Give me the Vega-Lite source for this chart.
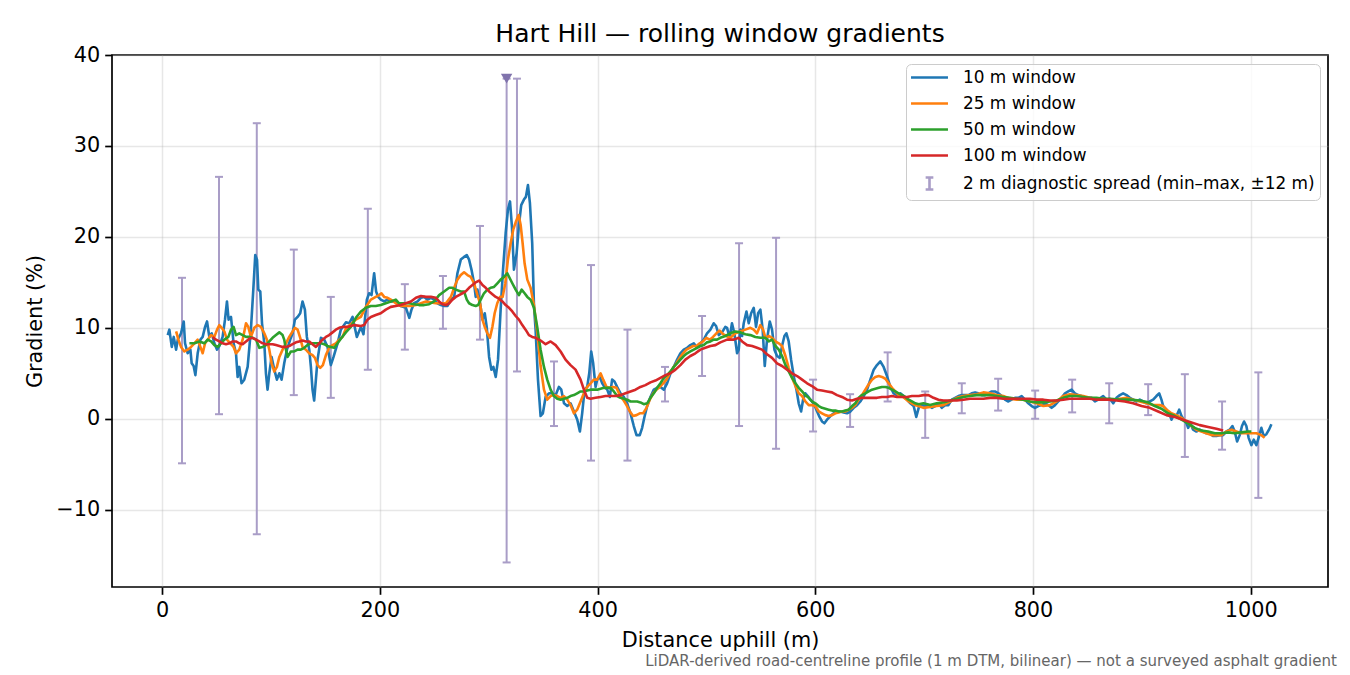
{
  "$schema": "https://vega.github.io/schema/vega-lite/v6.json",
  "background": "white",
  "padding": {"left": 23, "top": 21, "right": 10, "bottom": 6},
  "config": {
    "font": "DejaVu Sans",
    "view": {"stroke": "#000000", "strokeWidth": 1.7},
    "axis": {
      "labelFont": "DejaVu Sans", "labelFontSize": 20.8, "labelColor": "#000000",
      "titleFont": "DejaVu Sans", "titleFontSize": 20.8, "titleFontWeight": "normal", "titleColor": "#000000",
      "domain": false, "tickColor": "#000000", "tickWidth": 1.7, "tickSize": 7.3, "labelPadding": 5,
      "gridColor": "#b0b0b0", "gridOpacity": 0.3, "gridWidth": 1.5
    },
    "legend": {
      "orient": "top-right", "offset": 8.5,
      "labelFont": "DejaVu Sans", "labelFontSize": 16.9, "labelColor": "#000000", "labelLimit": 500,
      "symbolType": "stroke", "symbolSize": 196, "symbolStrokeWidth": 2.6,
      "symbolOffset": 10, "labelOffset": 25, "rowPadding": 8, "padding": 5,
      "fillColor": "rgba(255,255,255,0.8)", "strokeColor": "#cccccc", "cornerRadius": 5
    }
  },
  "title": {
    "text": "LiDAR-derived road-centreline profile (1 m DTM, bilinear) — not a surveyed asphalt gradient",
    "orient": "bottom", "anchor": "end", "fontSize": 15, "fontWeight": "normal",
    "color": "#666666", "font": "DejaVu Sans", "offset": 3, "dx": 8
  },
  "datasets": {
    "spread": [
      {"x": 18.3, "lo": -4.9, "hi": 15.5}, {"x": 52.3, "lo": 0.5, "hi": 26.6}, {"x": 87, "lo": -12.7, "hi": 32.5},
      {"x": 121, "lo": 2.6, "hi": 18.6}, {"x": 155, "lo": 2.3, "hi": 13.4}, {"x": 189, "lo": 5.4, "hi": 23.1},
      {"x": 223, "lo": 7.6, "hi": 14.8}, {"x": 258, "lo": 9.9, "hi": 15.7}, {"x": 292, "lo": 8.7, "hi": 21.2},
      {"x": 316.5, "lo": -15.8, "hi": 37.4}, {"x": 326, "lo": 5.2, "hi": 37.4}, {"x": 360, "lo": -0.8, "hi": 6.3},
      {"x": 394, "lo": -4.6, "hi": 16.9}, {"x": 427.5, "lo": -4.6, "hi": 9.8}, {"x": 462, "lo": 1.9, "hi": 5.7},
      {"x": 496, "lo": 4.7, "hi": 11.3}, {"x": 530, "lo": -0.8, "hi": 19.3}, {"x": 564, "lo": -3.3, "hi": 19.9},
      {"x": 598, "lo": -1.4, "hi": 4.3}, {"x": 632, "lo": -0.9, "hi": 2.7}, {"x": 666.5, "lo": 1.9, "hi": 7.3},
      {"x": 701, "lo": -2.1, "hi": 3.0}, {"x": 734.6, "lo": 0.6, "hi": 3.9}, {"x": 768, "lo": 0.9, "hi": 4.4},
      {"x": 802, "lo": 0.0, "hi": 3.1}, {"x": 836, "lo": 0.7, "hi": 4.3}, {"x": 870, "lo": -0.5, "hi": 3.9},
      {"x": 905.8, "lo": 0.4, "hi": 3.8}, {"x": 939.5, "lo": -4.2, "hi": 4.9}, {"x": 973.7, "lo": -3.4, "hi": 1.9},
      {"x": 1007, "lo": -8.7, "hi": 5.1}
    ],
    "steepest": [{"x": 316.5, "y": 37.4}],
    "w10": [
      {"x":5.2,"y":9.2},{"x":6.7,"y":9.8},{"x":8.9,"y":7.9},{"x":10.7,"y":9.0},{"x":12.9,"y":7.6},{"x":14.4,"y":8.7},{"x":17.4,"y":9.4},{"x":19.9,"y":10.7},{"x":21.1,"y":8.3},{"x":23.5,"y":7.2},{"x":26,"y":7.6},{"x":27.2,"y":6.1},{"x":29,"y":5.8},{"x":30.6,"y":4.8},{"x":32.7,"y":7.2},{"x":35.2,"y":8.7},{"x":37.3,"y":9.0},{"x":39.5,"y":10.1},{"x":41.3,"y":10.7},{"x":43.4,"y":9.0},{"x":45.6,"y":9.4},{"x":48,"y":8.3},{"x":50.5,"y":7.6},{"x":52.6,"y":8.0},{"x":55.6,"y":9.0},{"x":57.8,"y":10.9},{"x":59.6,"y":12.9},{"x":61.1,"y":10.9},{"x":63.3,"y":11.2},{"x":65.7,"y":8.3},{"x":67.9,"y":7.2},{"x":69.4,"y":4.6},{"x":70.9,"y":5.7},{"x":73,"y":3.9},{"x":75.5,"y":4.3},{"x":78.6,"y":5.7},{"x":81.6,"y":9.8},{"x":83.8,"y":14.2},{"x":85.6,"y":18.0},{"x":87.2,"y":17.5},{"x":88.4,"y":14.2},{"x":90.2,"y":14.0},{"x":91.8,"y":10.5},{"x":93.9,"y":8.3},{"x":95.4,"y":5.0},{"x":96.9,"y":3.2},{"x":98.5,"y":5.0},{"x":100.6,"y":6.8},{"x":103.1,"y":5.4},{"x":105.5,"y":4.3},{"x":107.7,"y":5.0},{"x":109.8,"y":4.3},{"x":112.2,"y":6.1},{"x":114.7,"y":7.6},{"x":117.7,"y":8.7},{"x":119.9,"y":9.4},{"x":122,"y":10.9},{"x":124.5,"y":11.2},{"x":126.9,"y":11.6},{"x":129,"y":12.9},{"x":131.2,"y":12.0},{"x":133,"y":9.0},{"x":135.2,"y":7.6},{"x":136.7,"y":5.7},{"x":138.2,"y":3.2},{"x":139.7,"y":2.0},{"x":141.3,"y":4.3},{"x":142.8,"y":6.5},{"x":145.9,"y":8.9},{"x":148.9,"y":8.7},{"x":152,"y":7.9},{"x":155,"y":5.9},{"x":157.5,"y":6.8},{"x":161.2,"y":8.3},{"x":164.2,"y":9.8},{"x":168.8,"y":10.6},{"x":171.9,"y":10.5},{"x":175,"y":11.2},{"x":178.9,"y":9.0},{"x":182.6,"y":10.1},{"x":185,"y":9.3},{"x":188.1,"y":13.1},{"x":190.2,"y":13.8},{"x":192.4,"y":13.6},{"x":194.8,"y":16.0},{"x":196.6,"y":14.0},{"x":198.5,"y":13.4},{"x":200.9,"y":13.1},{"x":204,"y":12.9},{"x":207.1,"y":13.1},{"x":210.1,"y":12.9},{"x":213.3,"y":12.9},{"x":216.3,"y":12.7},{"x":219.3,"y":12.4},{"x":224,"y":12.2},{"x":227.1,"y":11.1},{"x":229.1,"y":12.0},{"x":231.5,"y":12.7},{"x":234.7,"y":12.9},{"x":237.7,"y":13.3},{"x":240.8,"y":13.4},{"x":243.8,"y":13.1},{"x":246.9,"y":13.3},{"x":249.9,"y":13.1},{"x":253,"y":12.7},{"x":256.1,"y":12.5},{"x":259.1,"y":12.4},{"x":262.2,"y":12.4},{"x":265.2,"y":13.1},{"x":268.3,"y":13.4},{"x":271.3,"y":16.0},{"x":274.4,"y":17.5},{"x":277.4,"y":17.8},{"x":279.9,"y":18.0},{"x":282,"y":17.5},{"x":284.2,"y":16.4},{"x":286.6,"y":14.9},{"x":288.1,"y":13.4},{"x":289.7,"y":14.2},{"x":292.1,"y":12.7},{"x":294.3,"y":10.9},{"x":296.4,"y":11.6},{"x":298.2,"y":10.1},{"x":300.4,"y":6.8},{"x":302.5,"y":5.4},{"x":304.3,"y":5.7},{"x":306.5,"y":4.6},{"x":308.6,"y":6.5},{"x":311,"y":12.0},{"x":313.2,"y":16.4},{"x":315.6,"y":20.4},{"x":317.7,"y":23.0},{"x":319.6,"y":23.9},{"x":321.4,"y":21.1},{"x":323.2,"y":16.4},{"x":325.7,"y":18.2},{"x":327.8,"y":21.3},{"x":329.9,"y":23.5},{"x":332.4,"y":24.1},{"x":334.2,"y":24.4},{"x":336.1,"y":25.7},{"x":337.9,"y":23.7},{"x":340,"y":19.3},{"x":341.6,"y":12.5},{"x":343.1,"y":9.8},{"x":345.3,"y":4.3},{"x":347.7,"y":0.3},{"x":349.8,"y":0.6},{"x":352.3,"y":2.4},{"x":355.4,"y":2.8},{"x":358.4,"y":2.8},{"x":361.5,"y":2.6},{"x":364.5,"y":3.5},{"x":366.7,"y":3.2},{"x":369.2,"y":1.7},{"x":372.2,"y":1.4},{"x":375.2,"y":1.7},{"x":378.3,"y":0.8},{"x":381.4,"y":-0.1},{"x":383.8,"y":-1.4},{"x":385.9,"y":0.6},{"x":388.1,"y":3.2},{"x":390.5,"y":3.5},{"x":392.4,"y":5.0},{"x":394.2,"y":7.4},{"x":396,"y":6.1},{"x":398.2,"y":3.5},{"x":399.7,"y":4.3},{"x":402.1,"y":4.6},{"x":404.3,"y":3.9},{"x":406.4,"y":3.5},{"x":408.9,"y":3.2},{"x":411.3,"y":2.4},{"x":413.4,"y":4.3},{"x":415.6,"y":4.1},{"x":418,"y":3.5},{"x":421.1,"y":2.8},{"x":424.1,"y":2.4},{"x":427.2,"y":1.7},{"x":430.3,"y":0.6},{"x":433.3,"y":-0.8},{"x":435.8,"y":-1.8},{"x":438.8,"y":-1.8},{"x":441,"y":-1.0},{"x":443.1,"y":0.2},{"x":445.6,"y":1.4},{"x":448.6,"y":2.4},{"x":451.7,"y":3.2},{"x":454.7,"y":3.4},{"x":457.8,"y":3.5},{"x":460.9,"y":3.2},{"x":463.9,"y":3.9},{"x":467,"y":5.0},{"x":470,"y":5.7},{"x":473.1,"y":6.5},{"x":476.1,"y":7.2},{"x":479.2,"y":7.6},{"x":482.3,"y":7.8},{"x":485.3,"y":8.1},{"x":488.4,"y":8.3},{"x":491.4,"y":7.8},{"x":494.5,"y":8.3},{"x":497.6,"y":8.7},{"x":500.6,"y":9.4},{"x":503.7,"y":9.8},{"x":506.7,"y":10.5},{"x":508.9,"y":10.2},{"x":511.4,"y":9.2},{"x":514.4,"y":9.5},{"x":517.4,"y":10.1},{"x":519,"y":10.0},{"x":521.4,"y":8.9},{"x":523.5,"y":10.5},{"x":525.7,"y":9.4},{"x":528.2,"y":7.2},{"x":529.7,"y":7.6},{"x":531.2,"y":9.8},{"x":532.8,"y":9.1},{"x":534.3,"y":10.5},{"x":536.8,"y":11.8},{"x":538.9,"y":10.5},{"x":541.1,"y":11.6},{"x":543.5,"y":12.2},{"x":545.6,"y":10.1},{"x":547.5,"y":11.6},{"x":549.6,"y":12.0},{"x":551.7,"y":9.8},{"x":553.6,"y":5.8},{"x":555.7,"y":8.7},{"x":558.2,"y":10.7},{"x":560.3,"y":9.8},{"x":562.5,"y":7.6},{"x":564.9,"y":6.9},{"x":567.4,"y":6.7},{"x":569.5,"y":8.0},{"x":571.7,"y":9.1},{"x":573.5,"y":9.4},{"x":575.6,"y":8.5},{"x":577.8,"y":6.5},{"x":580.2,"y":4.7},{"x":582.7,"y":3.2},{"x":584.8,"y":1.7},{"x":587,"y":0.8},{"x":588.8,"y":2.1},{"x":590.9,"y":2.8},{"x":593.1,"y":2.5},{"x":595.5,"y":2.1},{"x":598.5,"y":1.7},{"x":601,"y":1.0},{"x":603.5,"y":0.3},{"x":606.2,"y":-0.3},{"x":608.4,"y":-0.5},{"x":610.8,"y":-0.1},{"x":613.9,"y":0.3},{"x":617,"y":0.6},{"x":620,"y":0.8},{"x":623.1,"y":0.8},{"x":626.1,"y":0.7},{"x":629.2,"y":0.6},{"x":632.3,"y":0.8},{"x":635.3,"y":1.2},{"x":638.4,"y":1.5},{"x":641.4,"y":1.9},{"x":644.5,"y":2.5},{"x":647.6,"y":3.2},{"x":650.6,"y":4.3},{"x":653.7,"y":5.4},{"x":656.7,"y":5.9},{"x":659.8,"y":6.3},{"x":662.8,"y":5.7},{"x":665.9,"y":4.7},{"x":669,"y":3.5},{"x":672,"y":2.8},{"x":675.1,"y":2.6},{"x":678.1,"y":2.8},{"x":681.2,"y":2.5},{"x":684.3,"y":2.1},{"x":687.3,"y":1.7},{"x":690.4,"y":1.4},{"x":692.8,"y":0.2},{"x":695,"y":1.2},{"x":697.9,"y":1.5},{"x":700.9,"y":1.4},{"x":704,"y":1.5},{"x":707.1,"y":1.2},{"x":710.1,"y":1.4},{"x":713.2,"y":1.7},{"x":716.2,"y":1.2},{"x":719.3,"y":1.5},{"x":722.3,"y":1.5},{"x":725.4,"y":2.1},{"x":728.5,"y":2.3},{"x":731.5,"y":2.5},{"x":734.6,"y":2.6},{"x":737.6,"y":2.6},{"x":740.7,"y":2.6},{"x":743.7,"y":2.8},{"x":746.8,"y":2.9},{"x":749.8,"y":2.8},{"x":752.9,"y":2.6},{"x":756,"y":2.6},{"x":759,"y":2.8},{"x":762.1,"y":3.0},{"x":765.1,"y":3.0},{"x":768.2,"y":2.8},{"x":771.3,"y":2.5},{"x":774.3,"y":2.1},{"x":777.4,"y":1.9},{"x":780.4,"y":2.1},{"x":783.5,"y":2.3},{"x":786.5,"y":2.3},{"x":789.6,"y":2.5},{"x":792.7,"y":2.1},{"x":795.7,"y":1.7},{"x":798.8,"y":1.4},{"x":801.8,"y":1.2},{"x":804.9,"y":1.4},{"x":807.9,"y":1.5},{"x":811,"y":1.7},{"x":814.1,"y":1.5},{"x":817.1,"y":1.2},{"x":820.2,"y":1.5},{"x":823.2,"y":1.9},{"x":826.3,"y":2.3},{"x":829.4,"y":2.8},{"x":832.4,"y":3.0},{"x":835.5,"y":3.2},{"x":838.5,"y":2.8},{"x":841.6,"y":2.6},{"x":844.6,"y":2.5},{"x":847.7,"y":2.3},{"x":850.8,"y":2.3},{"x":853.8,"y":2.3},{"x":856.9,"y":1.9},{"x":859.9,"y":2.1},{"x":864.5,"y":2.5},{"x":867.6,"y":2.1},{"x":870.6,"y":2.2},{"x":873.7,"y":1.7},{"x":876.7,"y":2.3},{"x":879.8,"y":2.6},{"x":882.8,"y":2.8},{"x":885.9,"y":2.6},{"x":889,"y":2.3},{"x":892,"y":2.1},{"x":895.1,"y":1.9},{"x":898.1,"y":2.1},{"x":901.2,"y":1.9},{"x":904.3,"y":1.7},{"x":907.3,"y":1.9},{"x":910.4,"y":2.1},{"x":913.4,"y":2.5},{"x":915.9,"y":2.8},{"x":918,"y":2.1},{"x":919.6,"y":1.4},{"x":922.6,"y":1.0},{"x":925.7,"y":0.4},{"x":927.2,"y":-0.1},{"x":929.4,"y":0.4},{"x":931.8,"y":0.3},{"x":934.3,"y":1.0},{"x":936.4,"y":0.3},{"x":938.5,"y":-0.1},{"x":941,"y":-0.5},{"x":942.5,"y":-1.0},{"x":944.6,"y":-0.5},{"x":947.1,"y":-1.2},{"x":950.1,"y":-1.4},{"x":953.2,"y":-1.2},{"x":956.3,"y":-1.4},{"x":959.3,"y":-1.6},{"x":962.4,"y":-1.6},{"x":965.4,"y":-1.9},{"x":968.5,"y":-1.9},{"x":971.6,"y":-1.8},{"x":974.6,"y":-1.8},{"x":977.7,"y":-1.4},{"x":980.7,"y":-1.2},{"x":983.2,"y":-0.8},{"x":985.3,"y":-1.4},{"x":987.5,"y":-2.5},{"x":989.9,"y":-1.8},{"x":992,"y":-0.8},{"x":993.9,"y":-0.3},{"x":996,"y":-0.8},{"x":998.1,"y":-2.1},{"x":1000.6,"y":-2.9},{"x":1002.8,"y":-2.3},{"x":1005.2,"y":-2.9},{"x":1007.7,"y":-1.9},{"x":1009.8,"y":-1.0},{"x":1012,"y":-1.9},{"x":1014.4,"y":-1.7},{"x":1016.8,"y":-1.2},{"x":1019,"y":-0.6}
    ],
    "w25": [
      {"x":12.9,"y":9.6},{"x":15,"y":8.7},{"x":17.4,"y":7.9},{"x":20.5,"y":7.4},{"x":23.5,"y":7.6},{"x":26.6,"y":7.9},{"x":29.7,"y":8.3},{"x":32.7,"y":8.7},{"x":35.2,"y":7.9},{"x":37.3,"y":7.2},{"x":39.5,"y":8.3},{"x":41.9,"y":8.7},{"x":45,"y":9.2},{"x":48,"y":9.0},{"x":50.5,"y":9.8},{"x":52.6,"y":10.3},{"x":54.7,"y":10.0},{"x":57.2,"y":9.6},{"x":59.6,"y":8.7},{"x":62.7,"y":8.3},{"x":65.7,"y":7.9},{"x":67.9,"y":7.2},{"x":70.9,"y":7.6},{"x":74,"y":8.7},{"x":77.1,"y":10.5},{"x":79.2,"y":10.1},{"x":81.6,"y":9.0},{"x":84.7,"y":10.0},{"x":87.8,"y":10.3},{"x":90.8,"y":10.1},{"x":93.9,"y":9.4},{"x":96.3,"y":8.7},{"x":98.5,"y":7.6},{"x":100.6,"y":6.1},{"x":103.1,"y":5.2},{"x":105.5,"y":5.7},{"x":107.7,"y":6.8},{"x":110.7,"y":7.6},{"x":113.8,"y":8.3},{"x":116.8,"y":9.0},{"x":119.9,"y":9.6},{"x":122,"y":10.0},{"x":124.5,"y":9.8},{"x":126.9,"y":8.9},{"x":129,"y":7.9},{"x":132.1,"y":7.6},{"x":135.2,"y":7.2},{"x":138.2,"y":7.0},{"x":140.4,"y":6.7},{"x":142.8,"y":5.9},{"x":145.3,"y":5.6},{"x":147.7,"y":5.9},{"x":150.5,"y":7.0},{"x":153.5,"y":7.8},{"x":156.6,"y":8.1},{"x":159.6,"y":8.3},{"x":162.7,"y":8.7},{"x":165.7,"y":9.0},{"x":168.8,"y":9.9},{"x":173.4,"y":10.4},{"x":178,"y":10.9},{"x":182.6,"y":11.2},{"x":187.2,"y":12.3},{"x":191.8,"y":13.1},{"x":196.3,"y":13.4},{"x":199.4,"y":13.6},{"x":201.5,"y":13.8},{"x":204,"y":13.4},{"x":207.1,"y":13.3},{"x":210.1,"y":13.1},{"x":214.7,"y":12.7},{"x":219.3,"y":12.4},{"x":224,"y":12.4},{"x":228.6,"y":12.4},{"x":233.2,"y":12.5},{"x":237.8,"y":12.7},{"x":242.4,"y":12.9},{"x":246.9,"y":12.8},{"x":251.5,"y":12.7},{"x":256.1,"y":12.7},{"x":260.7,"y":12.7},{"x":265.3,"y":13.4},{"x":268.3,"y":14.4},{"x":271.3,"y":15.3},{"x":274.4,"y":15.8},{"x":277.4,"y":16.1},{"x":280.5,"y":15.8},{"x":283.5,"y":15.6},{"x":286.6,"y":14.9},{"x":289.7,"y":13.6},{"x":292.1,"y":12.7},{"x":294.3,"y":10.9},{"x":296.4,"y":10.1},{"x":298.8,"y":9.4},{"x":301.2,"y":8.9},{"x":303.4,"y":10.1},{"x":305.5,"y":11.6},{"x":307.9,"y":12.7},{"x":310.4,"y":13.4},{"x":312.8,"y":13.4},{"x":315.3,"y":14.9},{"x":317.7,"y":17.5},{"x":320.2,"y":19.3},{"x":322.6,"y":20.8},{"x":325.1,"y":21.7},{"x":327.5,"y":22.4},{"x":329.4,"y":21.3},{"x":331.2,"y":19.3},{"x":333,"y":17.1},{"x":335.5,"y":15.3},{"x":338.5,"y":14.4},{"x":341.6,"y":12.5},{"x":344.6,"y":9.5},{"x":347.7,"y":5.8},{"x":350.8,"y":3.2},{"x":353.8,"y":2.1},{"x":356.9,"y":2.5},{"x":359.9,"y":2.6},{"x":363,"y":2.5},{"x":366.1,"y":2.3},{"x":369.1,"y":2.5},{"x":372.2,"y":2.1},{"x":375.2,"y":1.5},{"x":378.3,"y":0.6},{"x":381.3,"y":1.0},{"x":384.4,"y":1.9},{"x":387.5,"y":2.8},{"x":390.5,"y":3.5},{"x":393.6,"y":3.9},{"x":396.6,"y":4.3},{"x":399.7,"y":4.3},{"x":402.8,"y":5.0},{"x":405.2,"y":4.3},{"x":408.3,"y":3.5},{"x":411.3,"y":3.4},{"x":414.4,"y":3.5},{"x":417.4,"y":3.4},{"x":420.5,"y":2.6},{"x":423.5,"y":2.1},{"x":426.6,"y":1.5},{"x":429.7,"y":0.8},{"x":432.7,"y":0.3},{"x":435.8,"y":0.4},{"x":438.8,"y":0.6},{"x":441.9,"y":0.6},{"x":445,"y":1.2},{"x":448,"y":2.1},{"x":451.1,"y":2.8},{"x":454.1,"y":3.2},{"x":457.2,"y":3.5},{"x":460.3,"y":3.9},{"x":463.3,"y":4.3},{"x":466.4,"y":5.0},{"x":469.4,"y":5.6},{"x":472.5,"y":6.1},{"x":475.5,"y":6.7},{"x":478.6,"y":7.2},{"x":481.7,"y":7.6},{"x":484.7,"y":7.8},{"x":487.8,"y":8.0},{"x":490.8,"y":8.0},{"x":493.9,"y":8.3},{"x":496.9,"y":8.5},{"x":500,"y":8.9},{"x":503.1,"y":8.7},{"x":506.1,"y":9.0},{"x":509.2,"y":9.4},{"x":512.2,"y":9.7},{"x":515.3,"y":9.3},{"x":518.3,"y":9.1},{"x":522,"y":8.9},{"x":526.6,"y":9.4},{"x":531.2,"y":9.6},{"x":535.8,"y":9.8},{"x":540.4,"y":10.0},{"x":543.5,"y":9.8},{"x":546.5,"y":9.4},{"x":549.6,"y":10.3},{"x":552.1,"y":9.8},{"x":554.2,"y":8.9},{"x":557.3,"y":9.1},{"x":560.3,"y":8.9},{"x":563.4,"y":8.5},{"x":566.5,"y":8.3},{"x":569.5,"y":8.0},{"x":572.6,"y":6.9},{"x":575.6,"y":5.6},{"x":578.7,"y":4.5},{"x":581.8,"y":3.6},{"x":584.8,"y":2.8},{"x":587.9,"y":2.5},{"x":590.9,"y":1.9},{"x":594,"y":1.5},{"x":597,"y":1.5},{"x":600.1,"y":1.4},{"x":603.2,"y":0.8},{"x":606.2,"y":0.6},{"x":609.3,"y":0.4},{"x":612.3,"y":0.3},{"x":615.4,"y":0.4},{"x":618.5,"y":0.6},{"x":621.5,"y":0.7},{"x":624.6,"y":0.8},{"x":627.6,"y":0.8},{"x":630.7,"y":1.0},{"x":633.8,"y":1.2},{"x":636.8,"y":1.5},{"x":639.9,"y":2.1},{"x":642.9,"y":2.6},{"x":646,"y":3.2},{"x":649.1,"y":3.8},{"x":652.1,"y":4.3},{"x":655.2,"y":4.6},{"x":658.3,"y":4.7},{"x":661.3,"y":4.6},{"x":664.4,"y":4.4},{"x":667.4,"y":3.9},{"x":670.5,"y":3.4},{"x":673.5,"y":3.0},{"x":676.6,"y":2.6},{"x":679.7,"y":2.5},{"x":682.7,"y":2.2},{"x":685.8,"y":1.9},{"x":688.8,"y":1.7},{"x":691.9,"y":1.5},{"x":695,"y":1.4},{"x":699.4,"y":1.2},{"x":705.5,"y":1.3},{"x":711.6,"y":1.4},{"x":717.7,"y":1.5},{"x":723.9,"y":1.9},{"x":730,"y":2.3},{"x":736.1,"y":2.5},{"x":742.2,"y":2.6},{"x":748.3,"y":2.7},{"x":754.4,"y":2.9},{"x":760.6,"y":2.8},{"x":766.7,"y":2.6},{"x":772.8,"y":2.5},{"x":778.9,"y":2.2},{"x":785,"y":2.1},{"x":791.1,"y":2.1},{"x":797.2,"y":1.9},{"x":803.4,"y":1.7},{"x":809.5,"y":1.4},{"x":815.6,"y":1.5},{"x":821.7,"y":1.9},{"x":827.8,"y":2.5},{"x":833.9,"y":2.7},{"x":840.1,"y":2.6},{"x":846.2,"y":2.5},{"x":852.3,"y":2.3},{"x":858.4,"y":2.2},{"x":864.5,"y":2.2},{"x":870,"y":2.1},{"x":873.7,"y":2.1},{"x":879.8,"y":2.2},{"x":885.9,"y":2.3},{"x":892,"y":2.1},{"x":898.1,"y":1.9},{"x":904.3,"y":1.7},{"x":910.4,"y":1.5},{"x":916.5,"y":1.5},{"x":919.6,"y":1.4},{"x":922.6,"y":1.0},{"x":927.2,"y":0.6},{"x":931.8,"y":0.4},{"x":936.4,"y":0.1},{"x":941,"y":-0.3},{"x":945.6,"y":-0.8},{"x":950.1,"y":-1.2},{"x":954.7,"y":-1.4},{"x":959.3,"y":-1.6},{"x":963.9,"y":-1.8},{"x":968.5,"y":-1.8},{"x":973.1,"y":-1.8},{"x":977.7,"y":-1.4},{"x":982.3,"y":-1.2},{"x":986.9,"y":-1.4},{"x":991.4,"y":-1.6},{"x":996,"y":-1.6},{"x":1000.6,"y":-1.6},{"x":1005.2,"y":-1.6},{"x":1009.8,"y":-1.8},{"x":1012.8,"y":-2.1}
    ],
    "w50": [
      {"x":25.1,"y":8.3},{"x":29.7,"y":8.3},{"x":34.3,"y":8.5},{"x":38.8,"y":8.3},{"x":41.9,"y":8.7},{"x":45,"y":8.5},{"x":48,"y":8.1},{"x":51.1,"y":7.9},{"x":54.1,"y":8.3},{"x":57.2,"y":8.7},{"x":60.9,"y":9.0},{"x":63.3,"y":9.8},{"x":65.7,"y":10.1},{"x":67.9,"y":9.2},{"x":70.9,"y":9.4},{"x":74,"y":9.2},{"x":77.1,"y":9.0},{"x":80.1,"y":9.0},{"x":83.2,"y":8.9},{"x":86.3,"y":8.7},{"x":89.3,"y":7.8},{"x":92.4,"y":7.9},{"x":95.4,"y":8.1},{"x":98.5,"y":8.5},{"x":101.5,"y":8.9},{"x":104.6,"y":9.2},{"x":107.7,"y":9.5},{"x":110.7,"y":9.2},{"x":112.2,"y":8.7},{"x":113.8,"y":7.6},{"x":115.3,"y":6.8},{"x":118.3,"y":7.4},{"x":121.4,"y":7.4},{"x":124.5,"y":7.6},{"x":127.5,"y":7.6},{"x":130.6,"y":7.8},{"x":133.6,"y":8.1},{"x":136.7,"y":8.3},{"x":139.7,"y":8.3},{"x":142.8,"y":8.3},{"x":145.9,"y":8.3},{"x":148.9,"y":8.2},{"x":152,"y":8.0},{"x":155,"y":7.9},{"x":158.1,"y":7.8},{"x":161.2,"y":8.3},{"x":164.2,"y":8.8},{"x":168.8,"y":9.5},{"x":173.4,"y":10.1},{"x":178,"y":11.1},{"x":182.6,"y":11.8},{"x":187.2,"y":12.2},{"x":191.8,"y":12.4},{"x":196.3,"y":12.4},{"x":200.9,"y":12.5},{"x":205.5,"y":12.7},{"x":210.1,"y":12.9},{"x":214.7,"y":13.1},{"x":217.7,"y":12.7},{"x":222.3,"y":12.7},{"x":226.9,"y":12.7},{"x":231.5,"y":12.6},{"x":236.1,"y":12.5},{"x":240.7,"y":12.5},{"x":245.3,"y":12.6},{"x":249.9,"y":12.9},{"x":254.5,"y":13.6},{"x":259.1,"y":14.0},{"x":263.7,"y":14.4},{"x":266.7,"y":14.4},{"x":269.8,"y":14.2},{"x":274.4,"y":14.0},{"x":277.4,"y":14.0},{"x":279.9,"y":13.1},{"x":282,"y":12.7},{"x":285.1,"y":12.5},{"x":288.1,"y":12.4},{"x":290.3,"y":12.5},{"x":292.7,"y":13.1},{"x":295.7,"y":13.8},{"x":298.8,"y":14.2},{"x":301.8,"y":14.4},{"x":304.9,"y":14.5},{"x":308,"y":14.9},{"x":311,"y":15.3},{"x":314.1,"y":15.6},{"x":317.1,"y":16.0},{"x":319.6,"y":15.4},{"x":321.7,"y":14.9},{"x":324.8,"y":14.2},{"x":327.8,"y":13.6},{"x":330.3,"y":14.2},{"x":333,"y":13.8},{"x":335.5,"y":13.4},{"x":338.5,"y":13.1},{"x":341.6,"y":12.2},{"x":344.6,"y":10.1},{"x":347.7,"y":7.6},{"x":350.8,"y":5.7},{"x":353.8,"y":4.3},{"x":356.9,"y":3.2},{"x":359.9,"y":2.5},{"x":363,"y":2.2},{"x":366.1,"y":2.1},{"x":369.1,"y":2.2},{"x":372.2,"y":2.3},{"x":375.2,"y":2.5},{"x":378.3,"y":2.6},{"x":381.3,"y":2.8},{"x":384.4,"y":3.0},{"x":387.5,"y":3.0},{"x":390.5,"y":3.1},{"x":393.6,"y":3.2},{"x":396.6,"y":3.2},{"x":399.7,"y":3.2},{"x":402.8,"y":3.3},{"x":405.8,"y":3.4},{"x":408.9,"y":3.4},{"x":411.9,"y":3.4},{"x":415,"y":3.0},{"x":418,"y":2.5},{"x":421.1,"y":2.3},{"x":424.2,"y":2.2},{"x":427.2,"y":2.1},{"x":430.3,"y":1.9},{"x":433.3,"y":1.9},{"x":436.4,"y":1.9},{"x":439.4,"y":1.8},{"x":442.5,"y":1.6},{"x":445.6,"y":1.7},{"x":448.6,"y":2.3},{"x":451.7,"y":2.8},{"x":454.7,"y":3.4},{"x":457.8,"y":3.9},{"x":460.9,"y":4.5},{"x":463.9,"y":4.8},{"x":467,"y":5.2},{"x":470,"y":5.7},{"x":473.1,"y":6.1},{"x":476.1,"y":6.5},{"x":479.2,"y":6.9},{"x":482.3,"y":7.2},{"x":485.3,"y":7.4},{"x":488.4,"y":7.6},{"x":491.4,"y":7.8},{"x":494.5,"y":8.0},{"x":497.6,"y":8.1},{"x":500.6,"y":8.4},{"x":503.7,"y":8.5},{"x":506.7,"y":8.7},{"x":509.8,"y":8.7},{"x":512.8,"y":8.9},{"x":517.4,"y":9.1},{"x":522,"y":9.4},{"x":526.6,"y":9.6},{"x":531.2,"y":9.5},{"x":535.8,"y":9.3},{"x":540.4,"y":9.2},{"x":545,"y":9.0},{"x":549.6,"y":8.9},{"x":554.2,"y":8.9},{"x":557.3,"y":8.5},{"x":560.3,"y":8.7},{"x":563.4,"y":8.0},{"x":566.5,"y":7.6},{"x":569.5,"y":6.9},{"x":572.6,"y":5.9},{"x":575.6,"y":5.2},{"x":578.7,"y":4.5},{"x":581.8,"y":3.9},{"x":584.8,"y":3.4},{"x":587.9,"y":3.0},{"x":590.9,"y":2.6},{"x":594,"y":2.3},{"x":597,"y":1.9},{"x":600.1,"y":1.7},{"x":603.2,"y":1.4},{"x":606.2,"y":1.2},{"x":609.3,"y":1.1},{"x":612.3,"y":1.0},{"x":615.4,"y":0.9},{"x":618.5,"y":0.9},{"x":621.5,"y":0.8},{"x":624.6,"y":0.8},{"x":627.6,"y":0.9},{"x":630.7,"y":1.0},{"x":633.8,"y":1.4},{"x":636.8,"y":1.7},{"x":639.9,"y":2.3},{"x":642.9,"y":2.6},{"x":646,"y":2.8},{"x":649.1,"y":3.0},{"x":652.1,"y":3.2},{"x":655.2,"y":3.3},{"x":658.3,"y":3.4},{"x":661.3,"y":3.5},{"x":664.4,"y":3.5},{"x":667.4,"y":3.4},{"x":670.5,"y":3.2},{"x":673.5,"y":3.0},{"x":676.6,"y":2.8},{"x":679.7,"y":2.6},{"x":682.7,"y":2.4},{"x":685.8,"y":2.1},{"x":688.8,"y":1.9},{"x":691.9,"y":1.7},{"x":695,"y":1.6},{"x":699.4,"y":1.7},{"x":705.5,"y":1.5},{"x":711.6,"y":1.7},{"x":717.7,"y":1.8},{"x":723.9,"y":2.0},{"x":730,"y":2.2},{"x":736.1,"y":2.4},{"x":742.2,"y":2.5},{"x":748.3,"y":2.6},{"x":754.4,"y":2.6},{"x":760.6,"y":2.6},{"x":766.7,"y":2.5},{"x":772.8,"y":2.4},{"x":778.9,"y":2.3},{"x":785,"y":2.2},{"x":791.1,"y":2.1},{"x":797.2,"y":1.9},{"x":803.4,"y":1.8},{"x":809.5,"y":1.8},{"x":815.6,"y":1.9},{"x":821.7,"y":2.0},{"x":827.8,"y":2.3},{"x":833.9,"y":2.5},{"x":840.1,"y":2.5},{"x":846.2,"y":2.4},{"x":852.3,"y":2.3},{"x":858.4,"y":2.3},{"x":864.5,"y":2.2},{"x":870.6,"y":2.2},{"x":879.8,"y":2.1},{"x":889,"y":2.1},{"x":898.1,"y":2.0},{"x":905.8,"y":1.8},{"x":911.9,"y":1.4},{"x":918,"y":1.1},{"x":924.1,"y":0.6},{"x":930.3,"y":0.3},{"x":936.4,"y":-0.1},{"x":942.5,"y":-0.5},{"x":948.6,"y":-1.0},{"x":954.7,"y":-1.3},{"x":960.9,"y":-1.4},{"x":967,"y":-1.6},{"x":973.1,"y":-1.6},{"x":979.2,"y":-1.5},{"x":985.3,"y":-1.6},{"x":991.4,"y":-1.5},{"x":997.5,"y":-1.4},{"x":1000.6,"y":-1.4}
    ],
    "w100": [
      {"x":46.5,"y":9.0},{"x":49.5,"y":8.7},{"x":52.6,"y":8.5},{"x":55.6,"y":8.3},{"x":58.7,"y":8.2},{"x":61.8,"y":8.3},{"x":64.8,"y":8.5},{"x":67.9,"y":8.5},{"x":70.9,"y":8.3},{"x":74,"y":8.2},{"x":77.1,"y":8.5},{"x":80.1,"y":8.8},{"x":83.2,"y":8.9},{"x":86.3,"y":8.7},{"x":89.3,"y":8.5},{"x":92.4,"y":8.3},{"x":95.4,"y":8.2},{"x":98.5,"y":8.2},{"x":101.5,"y":8.2},{"x":104.6,"y":8.1},{"x":107.7,"y":8.0},{"x":110.7,"y":7.9},{"x":113.8,"y":7.9},{"x":116.8,"y":8.0},{"x":119.9,"y":8.2},{"x":123,"y":8.4},{"x":126,"y":8.5},{"x":129.1,"y":8.6},{"x":132.1,"y":8.5},{"x":135.2,"y":8.5},{"x":138.2,"y":8.2},{"x":141.3,"y":7.9},{"x":144.3,"y":8.3},{"x":147.4,"y":8.7},{"x":150.5,"y":9.0},{"x":153.5,"y":9.2},{"x":156.6,"y":9.5},{"x":159.6,"y":9.8},{"x":162.7,"y":10.0},{"x":165.7,"y":10.1},{"x":170.3,"y":10.1},{"x":176.4,"y":10.3},{"x":182.6,"y":10.2},{"x":185.6,"y":10.3},{"x":188.7,"y":10.9},{"x":191.8,"y":11.2},{"x":196.3,"y":11.4},{"x":200.9,"y":11.6},{"x":205.5,"y":12.0},{"x":210.1,"y":12.3},{"x":214.7,"y":12.4},{"x":219.3,"y":12.5},{"x":224,"y":12.7},{"x":228.6,"y":12.9},{"x":233.2,"y":13.3},{"x":237.8,"y":13.5},{"x":242.4,"y":13.4},{"x":246.9,"y":13.4},{"x":251.5,"y":13.3},{"x":254.5,"y":12.9},{"x":257.6,"y":12.6},{"x":260.7,"y":12.5},{"x":263.7,"y":12.7},{"x":266.7,"y":13.1},{"x":269.8,"y":13.4},{"x":272.8,"y":13.6},{"x":275.9,"y":13.8},{"x":278.9,"y":14.0},{"x":282,"y":14.4},{"x":285.1,"y":14.7},{"x":288.1,"y":15.0},{"x":291.2,"y":15.2},{"x":294.3,"y":14.7},{"x":297.3,"y":14.4},{"x":300.4,"y":14.0},{"x":303.4,"y":13.7},{"x":306.5,"y":13.4},{"x":309.5,"y":13.2},{"x":312.6,"y":12.9},{"x":315.6,"y":12.5},{"x":318.7,"y":12.2},{"x":321.7,"y":11.8},{"x":324.8,"y":11.3},{"x":327.8,"y":10.9},{"x":330.9,"y":10.3},{"x":333.9,"y":9.8},{"x":337,"y":9.2},{"x":340,"y":9.0},{"x":343.1,"y":8.9},{"x":347.7,"y":8.6},{"x":352.3,"y":8.2},{"x":356.9,"y":8.5},{"x":361.5,"y":8.1},{"x":366.1,"y":7.4},{"x":370.6,"y":6.5},{"x":375.2,"y":5.9},{"x":379.8,"y":5.4},{"x":384.4,"y":4.3},{"x":387.5,"y":3.2},{"x":390.5,"y":2.3},{"x":393.6,"y":2.2},{"x":398.2,"y":2.3},{"x":402.8,"y":2.4},{"x":407.3,"y":2.5},{"x":411.9,"y":2.5},{"x":416.5,"y":2.5},{"x":421.1,"y":2.6},{"x":425.7,"y":2.8},{"x":430.3,"y":3.0},{"x":434.9,"y":3.2},{"x":439.4,"y":3.5},{"x":444,"y":3.7},{"x":448.6,"y":4.0},{"x":453.2,"y":4.2},{"x":457.8,"y":4.5},{"x":462.4,"y":4.8},{"x":467,"y":5.0},{"x":471.6,"y":5.4},{"x":476.1,"y":5.9},{"x":480.7,"y":6.5},{"x":485.3,"y":6.9},{"x":489.9,"y":7.2},{"x":494.5,"y":7.6},{"x":499.1,"y":7.8},{"x":503.7,"y":8.0},{"x":508.3,"y":8.1},{"x":512.8,"y":8.4},{"x":519,"y":8.7},{"x":525.1,"y":8.7},{"x":529.7,"y":8.9},{"x":532.8,"y":8.5},{"x":537.4,"y":8.1},{"x":542,"y":8.0},{"x":546.5,"y":7.8},{"x":551.1,"y":7.6},{"x":555.7,"y":7.1},{"x":560.3,"y":6.7},{"x":564.9,"y":6.1},{"x":569.5,"y":5.8},{"x":574.1,"y":5.4},{"x":578.7,"y":5.0},{"x":583.3,"y":4.7},{"x":587.9,"y":4.3},{"x":592.5,"y":3.9},{"x":597,"y":3.6},{"x":601.6,"y":3.2},{"x":606.2,"y":3.1},{"x":610.8,"y":3.0},{"x":615.4,"y":2.9},{"x":620,"y":2.6},{"x":624.6,"y":2.4},{"x":629.2,"y":2.1},{"x":633.8,"y":2.0},{"x":638.4,"y":2.2},{"x":642.9,"y":2.3},{"x":647.5,"y":2.3},{"x":652.1,"y":2.3},{"x":656.7,"y":2.3},{"x":661.3,"y":2.4},{"x":665.9,"y":2.4},{"x":670.5,"y":2.5},{"x":675.1,"y":2.4},{"x":679.7,"y":2.4},{"x":684.3,"y":2.4},{"x":688.8,"y":2.5},{"x":695,"y":2.5},{"x":699.4,"y":2.6},{"x":704,"y":2.6},{"x":708.6,"y":2.3},{"x":713.2,"y":2.1},{"x":717.7,"y":2.0},{"x":723.9,"y":2.0},{"x":730,"y":2.0},{"x":736.1,"y":2.1},{"x":742.2,"y":2.2},{"x":748.3,"y":2.2},{"x":754.4,"y":2.2},{"x":760.6,"y":2.3},{"x":766.7,"y":2.3},{"x":772.8,"y":2.2},{"x":778.9,"y":2.2},{"x":785,"y":2.2},{"x":791.1,"y":2.2},{"x":797.2,"y":2.2},{"x":803.4,"y":2.1},{"x":809.5,"y":2.1},{"x":815.6,"y":2.0},{"x":821.7,"y":2.0},{"x":827.8,"y":2.1},{"x":833.9,"y":2.2},{"x":840.1,"y":2.2},{"x":846.2,"y":2.2},{"x":852.3,"y":2.2},{"x":858.4,"y":2.1},{"x":864.5,"y":2.1},{"x":869.2,"y":2.1},{"x":876.8,"y":2.0},{"x":884.4,"y":1.9},{"x":892,"y":1.7},{"x":899.7,"y":1.4},{"x":907.3,"y":1.2},{"x":915,"y":0.8},{"x":922.6,"y":0.4},{"x":930.3,"y":0.2},{"x":937.9,"y":-0.1},{"x":945.6,"y":-0.4},{"x":953.2,"y":-0.7},{"x":960.9,"y":-0.9},{"x":968.5,"y":-1.1},{"x":974.6,"y":-1.3}
    ]
  },
  "vconcat": [
    {
      "width": 1216,
      "height": 532,
      "title": {
        "text": "Hart Hill — rolling window gradients",
        "fontSize": 25, "fontWeight": "normal", "color": "#000000", "font": "DejaVu Sans",
        "anchor": "middle", "frame": "group", "offset": -3
      },
      "layer": [
        {
          "data": {"name": "spread"},
          "mark": {"type": "rule", "color": "#a99dc7", "strokeWidth": 2, "opacity": 1},
          "encoding": {
            "x": {
              "field": "x", "type": "quantitative",
              "scale": {"domain": [-46, 1071], "nice": false, "zero": false},
              "axis": {"values": [0, 200, 400, 600, 800, 1000], "format": "d", "title": "Distance uphill (m)", "labelPadding": 6, "titlePadding": 10, "grid": true}
            },
            "y": {
              "field": "lo", "type": "quantitative",
              "scale": {"domain": [-18.5, 40], "nice": false, "zero": false},
              "axis": {
                "values": [-10, 0, 10, 20, 30, 40], "title": "Gradient (%)", "titlePadding": 10, "grid": true,
                "labelExpr": "datum.value < 0 ? '−' + format(-datum.value, 'd') : format(datum.value, 'd')"
              }
            },
            "y2": {"field": "hi"}
          }
        },
        {
          "data": {"name": "spread"},
          "mark": {"type": "tick", "orient": "horizontal", "color": "#a99dc7", "size": 8, "thickness": 2, "opacity": 1},
          "encoding": {"x": {"field": "x", "type": "quantitative"}, "y": {"field": "lo", "type": "quantitative"}}
        },
        {
          "data": {"name": "spread"},
          "mark": {"type": "tick", "orient": "horizontal", "color": "#a99dc7", "size": 8, "thickness": 2, "opacity": 1},
          "encoding": {"x": {"field": "x", "type": "quantitative"}, "y": {"field": "hi", "type": "quantitative"}}
        },
        {
          "data": {"name": "w10"},
          "mark": {"type": "line", "strokeWidth": 2.6, "strokeJoin": "round"},
          "encoding": {
            "x": {"field": "x", "type": "quantitative"},
            "y": {"field": "y", "type": "quantitative"},
            "color": {
              "datum": "10 m window", "type": "nominal",
              "scale": {
                "domain": ["10 m window", "25 m window", "50 m window", "100 m window", "2 m diagnostic spread (min–max, ±12 m)"],
                "range": ["#1f77b4", "#ff7f0e", "#2ca02c", "#d62728", "#a99dc7"]
              },
              "legend": {
                "title": null,
                "encode": {
                  "symbols": {
                    "update": {
                      "shape": {"signal": "indexof(datum.label, 'diagnostic') >= 0 ? 'M-0.55,-0.85H0.55M0,-0.85V0.85M-0.55,0.85H0.55' : 'M-2.64,0H2.64'"}
                    }
                  }
                }
              }
            }
          }
        },
        {
          "data": {"name": "w25"},
          "mark": {"type": "line", "strokeWidth": 2.6, "strokeJoin": "round"},
          "encoding": {"x": {"field": "x", "type": "quantitative"}, "y": {"field": "y", "type": "quantitative"}, "color": {"datum": "25 m window", "type": "nominal"}}
        },
        {
          "data": {"name": "w50"},
          "mark": {"type": "line", "strokeWidth": 2.6, "strokeJoin": "round"},
          "encoding": {"x": {"field": "x", "type": "quantitative"}, "y": {"field": "y", "type": "quantitative"}, "color": {"datum": "50 m window", "type": "nominal"}}
        },
        {
          "data": {"name": "w100"},
          "mark": {"type": "line", "strokeWidth": 2.6, "strokeJoin": "round"},
          "encoding": {"x": {"field": "x", "type": "quantitative"}, "y": {"field": "y", "type": "quantitative"}, "color": {"datum": "100 m window", "type": "nominal"}}
        },
        {
          "data": {"name": "steepest"},
          "mark": {"type": "point", "shape": "triangle-down", "filled": true, "color": "#8073ac", "size": 130, "opacity": 1},
          "encoding": {"x": {"field": "x", "type": "quantitative"}, "y": {"field": "y", "type": "quantitative"}}
        }
      ]
    }
  ]
}
